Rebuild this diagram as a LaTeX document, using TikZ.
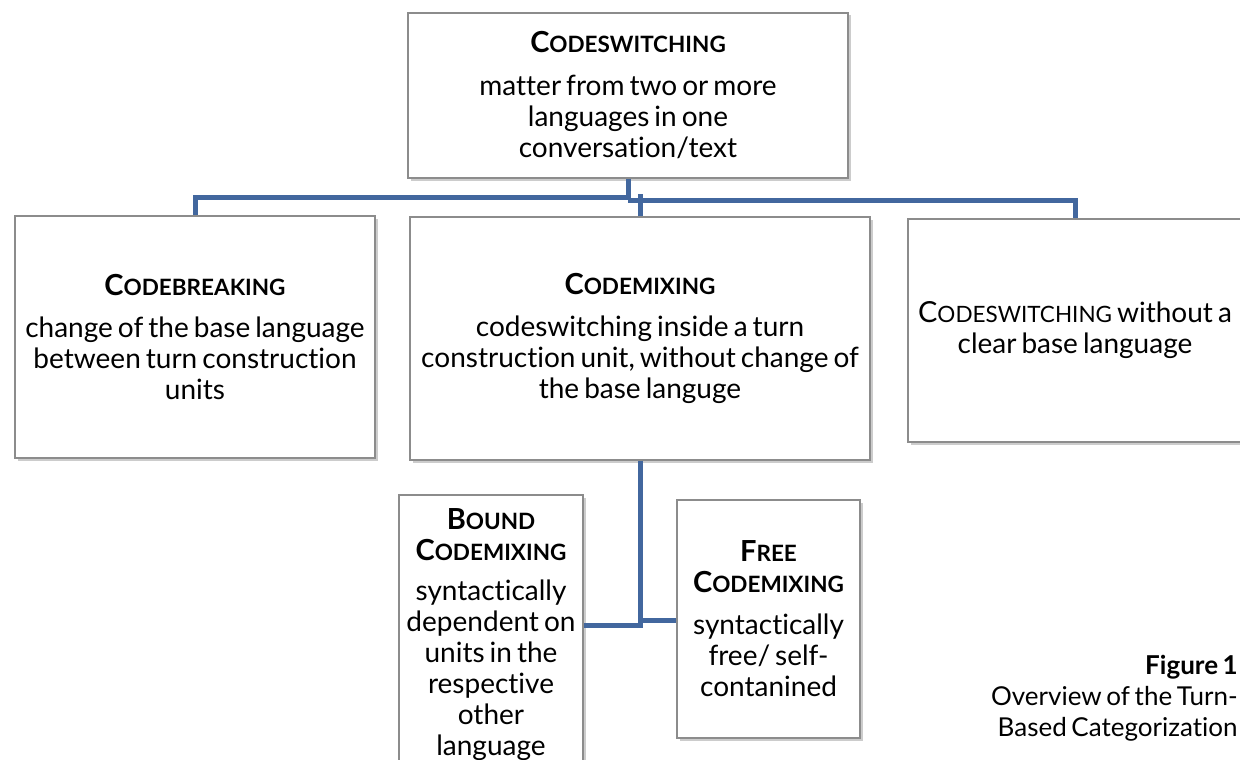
\documentclass[tikz,border=0pt]{standalone}
\usepackage{fontspec}
\setmainfont{Lato}[Ligatures=NoCommon, WordSpace=0.7]
\usetikzlibrary{positioning,shadows}
\newcommand\smallcap[2]{{\fontsize{29}{31}\selectfont #1}{\fontsize{22.5}{31}\selectfont #2}}
\tikzset{every picture/.style={line width=0.75pt}}

\begin{document}
\begin{tikzpicture}[x=1pt,y=1pt,yscale=-1,xscale=1,
  catbox/.style={draw={rgb,255:red,140;green,140;blue,140}, line width=1.3pt, fill=white,
    align=center, inner sep=1pt, font=\fontsize{28}{31}\selectfont,
    drop shadow={shadow xshift=2.5pt, shadow yshift=-2.5pt, fill=black!40}},
  link/.style={draw={rgb,255:red,66;green,103;blue,158}, line width=5pt}]
\useasboundingbox (0,0) rectangle (1240,760);

%Boxes
\node[catbox, minimum width=440pt, minimum height=165pt] (cs) at (628,95.5)
  {\textbf{\smallcap{C}{ODESWITCHING}}\\[12pt] matter from two or more\\ languages in one\\ conversation/text};
\node[catbox, minimum width=360pt, minimum height=242pt] (cb) at (195,337)
  {\textbf{\smallcap{C}{ODEBREAKING}}\\[11pt] change of the base language\\ between turn construction\\ units};
\node[catbox, minimum width=460pt, minimum height=243pt] (cm) at (640,338.5)
  {\textbf{\smallcap{C}{ODEMIXING}}\\[11pt] codeswitching inside a turn\\ construction unit, without change of\\ the base languge};
\node[catbox, minimum width=334pt, minimum height=223pt] (cwo) at (1075,330.5)
  {\smallcap{C}{ODESWITCHING} without a\\ clear base language};
\node[catbox, minimum width=184pt, minimum height=280pt] (bound) at (491,635)
  {\textbf{\smallcap{B}{OUND}}\\ \textbf{\smallcap{C}{ODEMIXING}}\\[9pt] syntactically\\ dependent on\\ units in the\\ respective\\ other\\ language};
\node[catbox, minimum width=183pt, minimum height=238pt] (free) at (768.5,619)
  {\textbf{\smallcap{F}{REE}}\\ \textbf{\smallcap{C}{ODEMIXING}}\\[11pt] syntactically\\ free/ self-\\ contanined};

%Connectors
\draw[link] (cs.south) -- ++(0,19) -| (cb.north);
\draw[link] (cs.south) ++(0,22) -| (cwo.north);
\draw[link] (cm.north) -- ++(0,-22);
\path (cm.south) ++(0,165) coordinate (split);
\path (cm.south) ++(0,160) coordinate (split2);
\draw[link] (cm.south) -- (split) -- (split -| bound.east);
\draw[link] (split2) -- (split2 -| free.west);

% Caption
\node[anchor=north east, align=right, inner sep=0pt, font=\fontsize{26}{31}\selectfont] (fig) at (1238,655)
  {\textbf{Figure 1}\\ Overview of the Turn-\\ Based Categorization};

\end{tikzpicture}
\end{document}
